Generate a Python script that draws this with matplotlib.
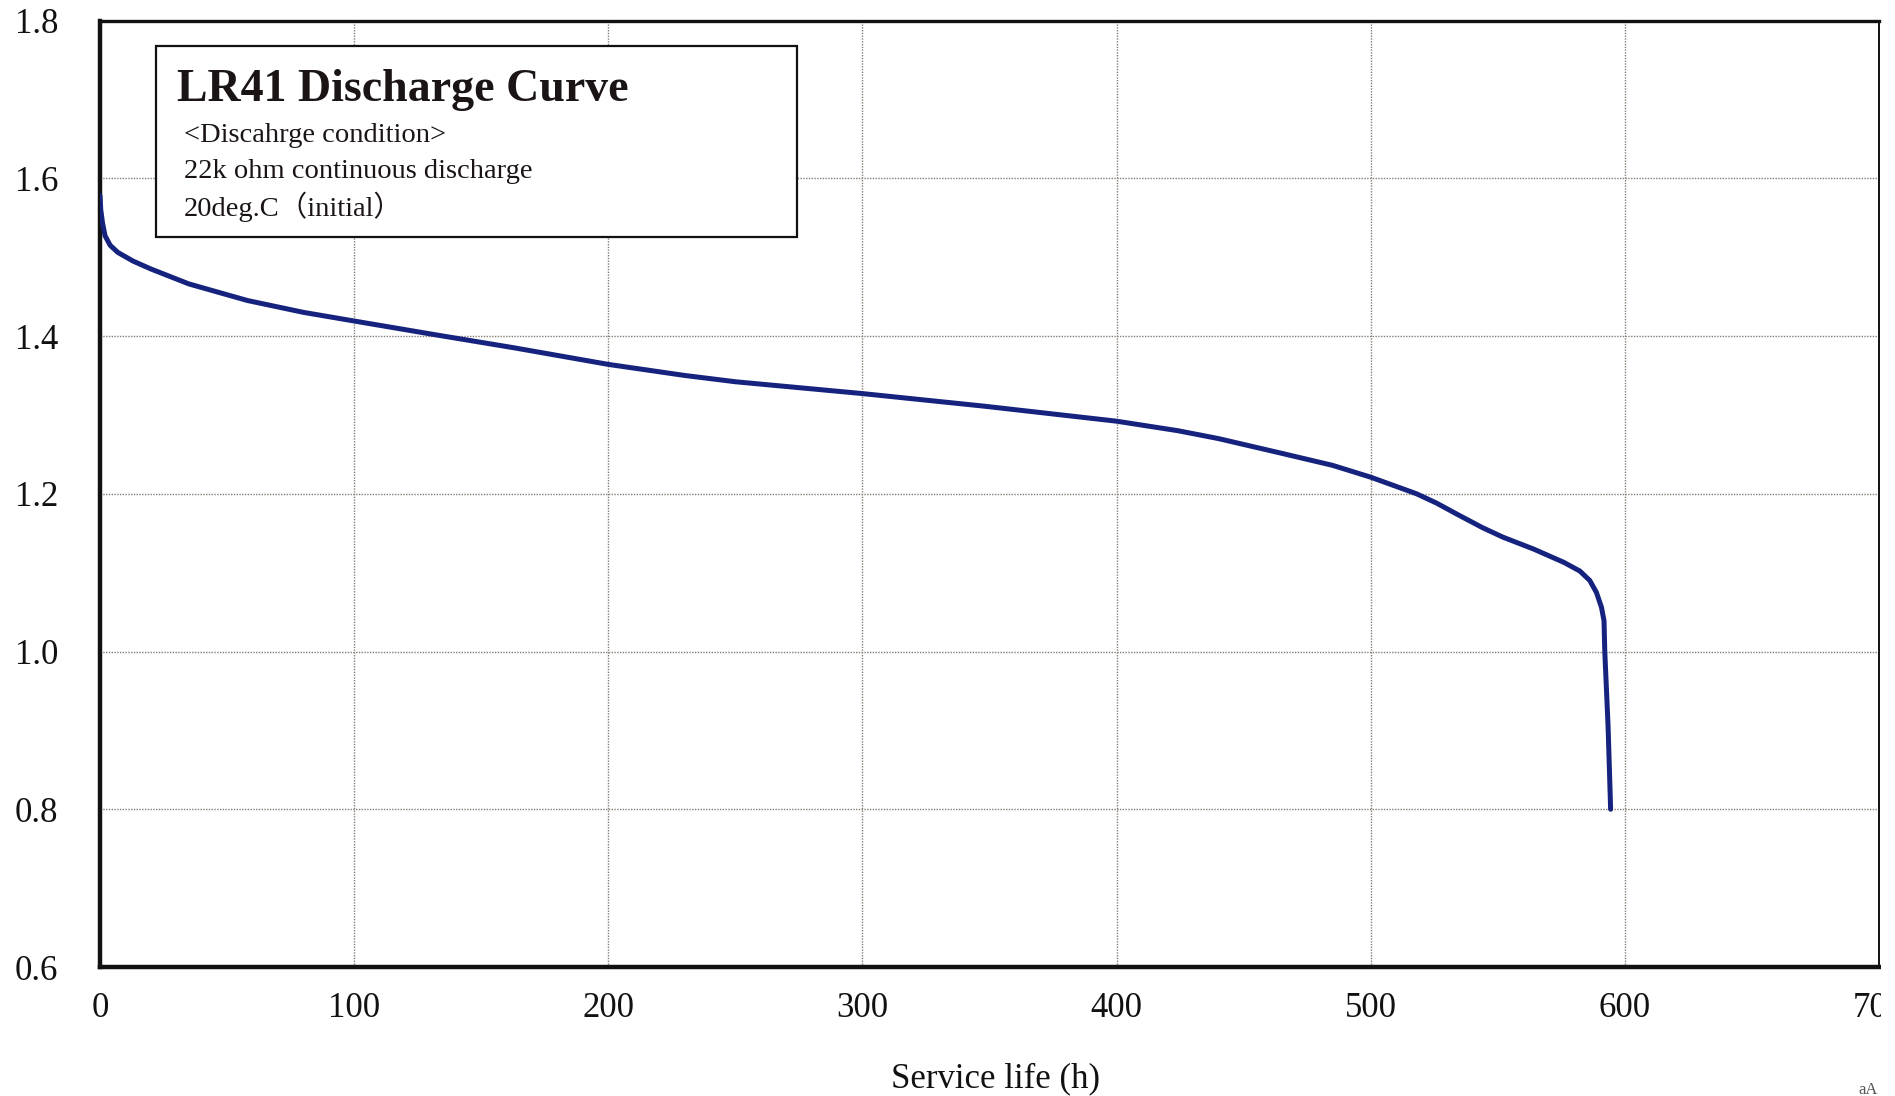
import matplotlib
matplotlib.use("Agg")
import matplotlib.pyplot as plt
from matplotlib.patches import Rectangle

# ---- data ----
hours = [0, 0.3, 1, 2, 4, 7, 13, 20, 35, 58, 80, 100, 133, 163, 200, 215, 230,
         250, 270, 300, 348, 400, 424, 440, 464, 485, 500, 518, 526, 534, 544,
         552, 564, 576, 582.3, 586.2, 588.8, 590.8, 591.8, 592.1, 593.4, 594.4]
voltage = [1.578, 1.560, 1.543, 1.527, 1.515, 1.506, 1.495, 1.485, 1.466, 1.445,
           1.430, 1.419, 1.401, 1.385, 1.364, 1.357, 1.350, 1.342, 1.336, 1.327,
           1.311, 1.292, 1.280, 1.270, 1.252, 1.236, 1.221, 1.200, 1.188, 1.174,
           1.157, 1.145, 1.130, 1.113, 1.102, 1.090, 1.075, 1.056, 1.039, 1.000,
           0.905, 0.800]
x_ticks = [0, 100, 200, 300, 400, 500, 600, 700]
y_ticks = [0.6, 0.8, 1.0, 1.2, 1.4, 1.6, 1.8]
y_tick_labels = ["0.6", "0.8", "1.0", "1.2", "1.4", "1.6", "1.8"]
title_text = "LR41 Discharge Curve"
info_lines = ["<Discahrge condition>", "22k ohm continuous discharge", "20deg.C（initial）"]
x_label = "Service life (h)"

W, H = 1895, 1096
SERIF = ["Liberation Serif", "Noto Sans CJK JP", "DejaVu Serif"]
plt.rcParams["font.family"] = SERIF

fig = plt.figure(figsize=(W / 100, H / 100), dpi=100)
fig.patch.set_facecolor("white")
ax = fig.add_axes([100 / W, 1 - 967 / H, (1879 - 100) / W, (967 - 20.5) / H])

ax.plot(hours, voltage, color="#15237f", lw=3.6, solid_capstyle="round",
        solid_joinstyle="round", zorder=3)

ax.set_xlim(0, 700)
ax.set_ylim(0.6, 1.8)
ax.set_xticks(x_ticks)
ax.set_xticklabels([str(t) for t in x_ticks])
ax.set_yticks(y_ticks)
ax.set_yticklabels(y_tick_labels)
ax.tick_params(axis="both", length=0, labelsize=25, colors="#111111")
ax.tick_params(axis="x", pad=18)
ax.tick_params(axis="y", pad=30)

ax.grid(True, color="#857e74", linestyle=(0, (1, 1)), linewidth=1.0, zorder=1)
ax.set_axisbelow(True)

for side, lw in (("left", 3.2), ("bottom", 3.2), ("top", 2.4), ("right", 1.4)):
    ax.spines[side].set_linewidth(lw)
    ax.spines[side].set_color("#111111")

# info box
box = Rectangle((156 / W, 1 - 237 / H), (797 - 156) / W, (237 - 46) / H,
                transform=fig.transFigure, facecolor="white", edgecolor="#111111",
                linewidth=1.6, zorder=5)
fig.add_artist(box)
fig.text(177 / W, 1 - 101 / H, title_text, fontsize=33, fontweight="bold",
         ha="left", va="baseline", color="#1a1414", zorder=6)
for yy, line in zip([135, 171, 207], info_lines):
    fig.text(184 / W, 1 - yy / H, line, fontsize=20.5, ha="left", va="center",
             color="#1a1414", zorder=6)

fig.text(996 / W, 1 - 1079 / H, x_label, fontsize=25, ha="center", va="center",
         color="#111111")
fig.text(1868 / W, 1 - 1090 / H, "aA", fontsize=12, ha="center", va="center",
         color="#555555")

# scan crop at the right edge clips the last tick label
fig.add_artist(Rectangle((1881 / W, 0.04), 1 - 1881 / W, 0.1, transform=fig.transFigure,
                         facecolor="white", edgecolor="none", zorder=10))

fig.savefig("out.png", dpi=100, facecolor="white")
